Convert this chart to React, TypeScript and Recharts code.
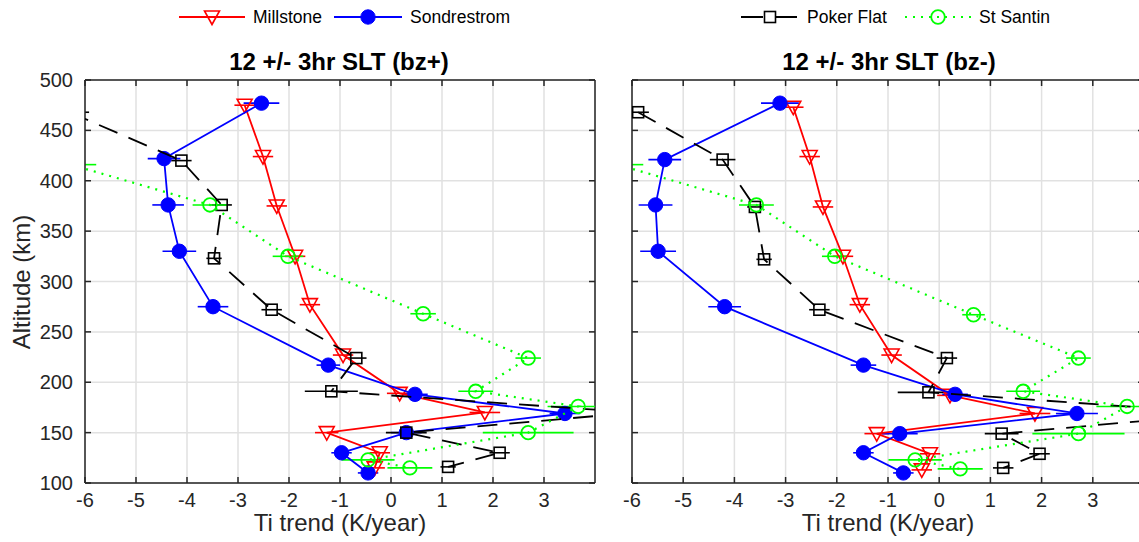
import React from 'react'
import { ScatterChart, Scatter, XAxis, YAxis, CartesianGrid, ErrorBar, ReferenceLine } from 'recharts'

// Ti trend (K/year) vs altitude (km), one block per station and panel

// 12 +/- 3hr SLT (bz+)
const millstonePlusAlt = [475, 424, 375, 325, 277, 227, 189, 170, 150, 130, 115]
const millstonePlusTi = [-2.87, -2.51, -2.24, -1.88, -1.59, -0.94, 0.17, 1.84, -1.26, -0.22, -0.32]
const millstonePlusErr = [0.2, 0.2, 0.2, 0.2, 0.2, 0.2, 0.25, 0.3, 0.23, 0.2, 0.2]

const sondrestromPlusAlt = [477, 422, 376, 330, 275, 217, 188, 169, 150, 130, 110]
const sondrestromPlusTi = [-2.54, -4.45, -4.37, -4.15, -3.49, -1.23, 0.47, 3.41, 0.3, -0.97, -0.45]
const sondrestromPlusErr = [0.35, 0.32, 0.31, 0.33, 0.3, 0.23, 0.25, 0.3, 0.3, 0.2, 0.2]

const pokerPlusAlt = [468, 420, 376, 323, 272, 224, 191, 170, 150, 130, 116]
const pokerPlusTi = [-6.3, -4.11, -3.32, -3.47, -2.34, -0.68, -1.17, 4.8, 0.3, 2.13, 1.12]
const pokerPlusErr = [0.38, 0.2, 0.2, 0.15, 0.2, 0.2, 0.52, 0.3, 0.4, 0.2, 0.15]

const stSantinPlusAlt = [416, 376, 325, 268, 224, 191, 176, 150, 123, 115]
const stSantinPlusTi = [-6.28, -3.55, -2.02, 0.63, 2.69, 1.66, 3.67, 2.69, -0.45, 0.37]
const stSantinPlusErr = [0.5, 0.34, 0.3, 0.25, 0.25, 0.34, 0.6, 0.89, 0.52, 0.44]

// 12 +/- 3hr SLT (bz-)
const millstoneMinusAlt = [473, 424, 374, 325, 277, 227, 187, 169, 149, 129, 113]
const millstoneMinusTi = [-2.85, -2.53, -2.27, -1.88, -1.55, -0.93, 0.21, 1.87, -1.22, -0.18, -0.34]
const millstoneMinusErr = [0.2, 0.2, 0.2, 0.2, 0.2, 0.2, 0.25, 0.3, 0.24, 0.2, 0.2]

const sondrestromMinusAlt = [477, 421, 376, 330, 275, 217, 188, 169, 149, 130, 110]
const sondrestromMinusTi = [-3.11, -5.36, -5.54, -5.49, -4.19, -1.48, 0.31, 2.69, -0.77, -1.48, -0.7]
const sondrestromMinusErr = [0.37, 0.32, 0.33, 0.35, 0.32, 0.25, 0.25, 0.41, 0.35, 0.2, 0.2]

const pokerMinusAlt = [468, 421, 374, 322, 272, 224, 190, 169, 149, 129, 115]
const pokerMinusTi = [-5.88, -4.23, -3.6, -3.42, -2.34, 0.15, -0.21, 5.6, 1.22, 1.96, 1.25]
const pokerMinusErr = [0.21, 0.25, 0.15, 0.15, 0.2, 0.2, 0.6, 0.3, 0.33, 0.2, 0.2]

const stSantinMinusAlt = [416, 376, 325, 267, 224, 191, 176, 149, 123, 114]
const stSantinMinusTi = [-6.28, -3.57, -2.04, 0.67, 2.72, 1.64, 3.67, 2.72, -0.47, 0.41]
const stSantinMinusErr = [0.5, 0.34, 0.25, 0.22, 0.24, 0.33, 0.6, 0.9, 0.52, 0.44]

const xTicks = [-6, -5, -4, -3, -2, -1, 0, 1, 2, 3]
const yTicks = [100, 150, 200, 250, 300, 350, 400, 450, 500]
const X_MIN = -6
const X_MAX = 4

const FONT = '"Liberation Sans", Arial, Helvetica, sans-serif'
const AXIS = '#262626'
const GRID = '#e1e1e1'
const RED = '#ff0000'
const BLUE = '#0000ff'
const BLACK = '#000000'
const GREEN = '#00ff00'
const PLOT_TOP = 80

// error bars don't get clipped with the plot, so trim them to the x range here
const toPoints = (ti: number[], alt: number[], err: number[]) =>
  ti.map((t, i) => {
    const lo = Math.max(t - err[i], X_MIN)
    const hi = Math.min(t + err[i], X_MAX)
    return { ti: t, alt: alt[i], err: hi > lo ? [t - lo, hi - t] : [0, 0] }
  })

const TriangleDown = ({ cx, cy }: any) => (
  <polygon
    points={`${cx - 7.5},${cy - 6} ${cx + 7.5},${cy - 6} ${cx},${cy + 7.5}`}
    fill="none"
    stroke={RED}
    strokeWidth={1.6}
  />
)
const Dot = ({ cx, cy }: any) => <circle cx={cx} cy={cy} r={7.2} fill={BLUE} stroke={BLUE} strokeWidth={1} />
const Square = ({ cx, cy }: any) => (
  <rect x={cx - 5.5} y={cy - 5.5} width={11} height={11} fill="none" stroke={BLACK} strokeWidth={1.6} />
)
const Ring = ({ cx, cy }: any) => <circle cx={cx} cy={cy} r={6.8} fill="none" stroke={GREEN} strokeWidth={1.8} />

type Pt = { ti: number; alt: number; err: number[] }

interface PanelProps {
  width: number
  yAxisWidth: number
  marginLeft: number
  marginRight: number
  showYLabels: boolean
  millstone: Pt[]
  sondrestrom: Pt[]
  poker: Pt[]
  stSantin: Pt[]
}

const Panel: React.FC<PanelProps> = ({ width, yAxisWidth, marginLeft, marginRight, showYLabels, millstone, sondrestrom, poker, stSantin }) => {
  const plotLeft = marginLeft + yAxisWidth
  const plotRight = width - marginRight

  const XTick = (props: any) => {
    const { x, y, payload } = props
    return (
      <g>
        <line x1={x} x2={x} y1={y} y2={y - 6} stroke={AXIS} strokeWidth={1.5} />
        <line x1={x} x2={x} y1={PLOT_TOP} y2={PLOT_TOP + 6} stroke={AXIS} strokeWidth={1.5} />
        <text x={x} y={y + 24} textAnchor="middle" fill={AXIS} fontSize={20} fontFamily={FONT}>
          {payload.value}
        </text>
      </g>
    )
  }

  const YTick = (props: any) => {
    const { y, payload } = props
    return (
      <g>
        <line x1={plotLeft} x2={plotLeft + 6} y1={y} y2={y} stroke={AXIS} strokeWidth={1.5} />
        <line x1={plotRight - 6} x2={plotRight} y1={y} y2={y} stroke={AXIS} strokeWidth={1.5} />
        {showYLabels && (
          <text x={plotLeft - 12} y={y} dy="0.35em" textAnchor="end" fill={AXIS} fontSize={20} fontFamily={FONT}>
            {payload.value}
          </text>
        )}
      </g>
    )
  }

  return (
    <ScatterChart width={width} height={542} margin={{ top: PLOT_TOP, right: marginRight, bottom: 29, left: marginLeft }}>
      <CartesianGrid stroke={GRID} strokeWidth={1.5} />
      <XAxis
        type="number"
        dataKey="ti"
        domain={[X_MIN, X_MAX]}
        ticks={xTicks}
        interval={0}
        allowDataOverflow
        height={30}
        tickSize={0}
        tickMargin={0}
        tickLine={false}
        axisLine={{ stroke: AXIS, strokeWidth: 1.5 }}
        tick={XTick}
      />
      <YAxis
        type="number"
        dataKey="alt"
        domain={[100, 500]}
        ticks={yTicks}
        interval={0}
        allowDataOverflow
        width={yAxisWidth}
        tickSize={0}
        tickMargin={0}
        tickLine={false}
        axisLine={{ stroke: AXIS, strokeWidth: 1.5 }}
        tick={YTick}
      />
      <ReferenceLine y={500} stroke={AXIS} strokeWidth={1.5} />
      <ReferenceLine x={X_MAX} stroke={AXIS} strokeWidth={1.5} />
      <Scatter
        data={millstone}
        fill={RED}
        shape={TriangleDown}
        line={{ stroke: RED, strokeWidth: 1.8 }}
        lineType="joint"
        isAnimationActive={false}
      >
        <ErrorBar dataKey="err" direction="x" width={0} stroke={RED} strokeWidth={1.6} />
      </Scatter>
      <Scatter
        data={sondrestrom}
        fill={BLUE}
        shape={Dot}
        line={{ stroke: BLUE, strokeWidth: 1.8 }}
        lineType="joint"
        isAnimationActive={false}
      >
        <ErrorBar dataKey="err" direction="x" width={0} stroke={BLUE} strokeWidth={1.6} />
      </Scatter>
      <Scatter
        data={poker}
        fill={BLACK}
        shape={Square}
        line={{ stroke: BLACK, strokeWidth: 1.8, strokeDasharray: '20 12' }}
        lineType="joint"
        isAnimationActive={false}
      >
        <ErrorBar dataKey="err" direction="x" width={0} stroke={BLACK} strokeWidth={1.6} />
      </Scatter>
      <Scatter
        data={stSantin}
        fill={GREEN}
        shape={Ring}
        line={{ stroke: GREEN, strokeWidth: 2.2, strokeDasharray: '2 6' }}
        lineType="joint"
        isAnimationActive={false}
      >
        <ErrorBar dataKey="err" direction="x" width={0} stroke={GREEN} strokeWidth={1.6} />
      </Scatter>
    </ScatterChart>
  )
}

const LegendEntry = ({ left, lineWidth, color, dash, marker, label }: any) => (
  <div style={{ position: 'absolute', left, top: 7, height: 20, display: 'flex', alignItems: 'center', whiteSpace: 'nowrap' }}>
    <svg width={lineWidth} height={20}>
      <line x1={0} x2={lineWidth} y1={10} y2={10} stroke={color} strokeWidth={1.8} strokeDasharray={dash} />
      {marker({ cx: lineWidth / 2, cy: 10 })}
    </svg>
    <span style={{ marginLeft: 8, fontSize: 17.5, color: '#000' }}>{label}</span>
  </div>
)

const centered = (cx: number, top: number, w: number): React.CSSProperties => ({
  position: 'absolute',
  left: cx - w / 2,
  top,
  width: w,
  display: 'flex',
  justifyContent: 'center',
  whiteSpace: 'nowrap',
})

export default function App() {
  return (
    <div
      style={{
        position: 'absolute',
        left: 0,
        top: 0,
        width: 1139,
        height: 542,
        overflow: 'hidden',
        background: '#fff',
        fontFamily: FONT,
      }}
    >
      <div style={{ position: 'absolute', left: 0, top: 0 }}>
        <Panel
          width={600}
          yAxisWidth={60}
          marginLeft={25}
          marginRight={5}
          showYLabels
          millstone={toPoints(millstonePlusTi, millstonePlusAlt, millstonePlusErr)}
          sondrestrom={toPoints(sondrestromPlusTi, sondrestromPlusAlt, sondrestromPlusErr)}
          poker={toPoints(pokerPlusTi, pokerPlusAlt, pokerPlusErr)}
          stSantin={toPoints(stSantinPlusTi, stSantinPlusAlt, stSantinPlusErr)}
        />
      </div>
      <div style={{ position: 'absolute', left: 600, top: 0 }}>
        <Panel
          width={550}
          yAxisWidth={20}
          marginLeft={12}
          marginRight={6}
          showYLabels={false}
          millstone={toPoints(millstoneMinusTi, millstoneMinusAlt, millstoneMinusErr)}
          sondrestrom={toPoints(sondrestromMinusTi, sondrestromMinusAlt, sondrestromMinusErr)}
          poker={toPoints(pokerMinusTi, pokerMinusAlt, pokerMinusErr)}
          stSantin={toPoints(stSantinMinusTi, stSantinMinusAlt, stSantinMinusErr)}
        />
      </div>

      {/* legends */}
      <LegendEntry left={179} lineWidth={66} color={RED} marker={TriangleDown} label="Millstone" />
      <LegendEntry left={334} lineWidth={68} color={BLUE} marker={Dot} label="Sondrestrom" />
      <LegendEntry left={741} lineWidth={58} color={BLACK} dash="22 12" marker={Square} label="Poker Flat" />
      <LegendEntry left={905} lineWidth={66} color={GREEN} dash="2 6" marker={Ring} label="St Santin" />

      {/* titles */}
      <div style={{ ...centered(339, 48, 400), fontWeight: 'bold', fontSize: 24, lineHeight: '28px', color: '#000' }}>
        12 +/- 3hr SLT (bz+)
      </div>
      <div style={{ ...centered(889, 48, 400), fontWeight: 'bold', fontSize: 24, lineHeight: '28px', color: '#000' }}>
        12 +/- 3hr SLT (bz-)
      </div>

      {/* axis labels */}
      <div style={{ ...centered(340, 509, 400), fontSize: 24, lineHeight: '28px', color: AXIS }}>Ti trend (K/year)</div>
      <div style={{ ...centered(888, 509, 400), fontSize: 24, lineHeight: '28px', color: AXIS }}>Ti trend (K/year)</div>
      <div
        style={{
          position: 'absolute',
          left: 22,
          top: 282,
          transform: 'translate(-50%, -50%) rotate(-90deg)',
          whiteSpace: 'nowrap',
          fontSize: 24,
          lineHeight: '28px',
          color: AXIS,
        }}
      >
        Altitude (km)
      </div>
    </div>
  )
}
